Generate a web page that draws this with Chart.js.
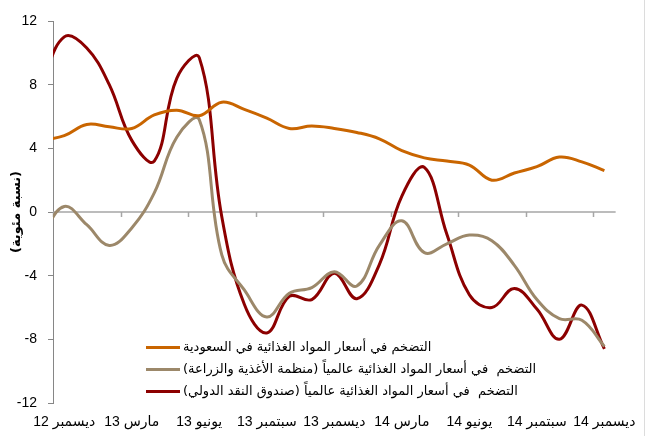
<!DOCTYPE html>
<html>
<head>
<meta charset="utf-8">
<script src="https://cdn.jsdelivr.net/npm/chart.js@4.4.1/dist/chart.umd.min.js"></script>
<style>
  html, body { margin: 0; padding: 0; background: #fff; }
  #wrap { width: 647px; height: 436px; position: relative; }
</style>
</head>
<body>
<div id="wrap"><canvas id="chart"></canvas></div>
<script>
// month index, 0 = start of Dec 2012 (first value is Nov 2012, clipped by the axis)
const monthX = [-0.5, 0.5, 1.5, 2.5, 3.5, 4.5, 5.5, 6.5, 7.5, 8.5, 9.5, 10.5, 11.5,
  12.5, 13.5, 14.5, 15.5, 16.5, 17.5, 18.5, 19.5, 20.5, 21.5, 22.5, 23.5, 24.5];

const saudi = [4.5, 4.8, 5.5, 5.35, 5.25, 6.1, 6.4, 6.05, 6.9, 6.45, 5.9, 5.25, 5.4,
  5.25, 5.0, 4.6, 3.85, 3.4, 3.2, 2.95, 2.0, 2.45, 2.85, 3.45, 3.15, 2.6];
const fao = [-1.5, 0.35, -0.8, -2.1, -1.0, 1.2, 4.7, 5.8, -2.7, -4.9, -6.6, -5.1, -4.75,
  -3.75, -4.65, -2.1, -0.55, -2.55, -2.0, -1.45, -1.8, -3.35, -5.5, -6.7, -6.8, -8.45];
const imf = [8.1, 11.0, 10.3, 8.0, 4.5, 3.2, 8.4, 9.7, -0.3, -5.8, -7.6, -5.3, -5.5,
  -3.85, -5.45, -3.3, 1.0, 2.8, -1.4, -5.2, -6.0, -4.8, -6.1, -8.0, -5.85, -8.6];

const seriesNames = [
  "التضخم في أسعار المواد الغذائية في السعودية",
  "التضخم  في أسعار المواد الغذائية عالمياً (منظمة الأغذية والزراعة)",
  "التضخم  في أسعار المواد الغذائية عالمياً (صندوق النقد الدولي)"
];
const seriesColors = ["#c96500", "#9c886a", "#8c0000"];

const xLabels = ["ديسمبر 12", "مارس 13", "يونيو 13", "سبتمبر 13", "ديسمبر 13",
  "مارس 14", "يونيو 14", "سبتمبر 14", "ديسمبر 14"];
const xLabelPos = [0.5, 3.5, 6.5, 9.5, 12.5, 15.5, 18.5, 21.5, 24.5];
const xTickMarks = [0, 3, 6, 9, 12, 15, 18, 21, 24];
const yTicks = [-12, -8, -4, 0, 4, 8, 12];
const yTitle = "(نسبة مئوية)";

const rtl = (s) => "\u202B" + s + "\u202C";
const toPoints = (vals) => vals.map((v, i) => ({ x: monthX[i], y: v }));
const axisFont = { family: "Liberation Sans, DejaVu Sans, sans-serif", size: 14 };

// zero line with the quarter tick marks hanging under it
const zeroLine = {
  id: "zeroLine",
  beforeDatasetsDraw(chart) {
    const { ctx, chartArea, scales: { x, y } } = chart;
    const y0 = y.getPixelForValue(0);
    ctx.save();
    ctx.strokeStyle = "#a6a6a6";
    ctx.lineWidth = 1.5;
    ctx.beginPath();
    ctx.moveTo(chartArea.left, y0);
    ctx.lineTo(chartArea.right, y0);
    xTickMarks.forEach((m) => {
      const px = Math.round(x.getPixelForValue(m)) + 0.5;
      ctx.moveTo(px, y0);
      ctx.lineTo(px, y0 + 5);
    });
    ctx.stroke();
    // faint frame edge on the right
    ctx.strokeStyle = "#dcdcdc";
    ctx.lineWidth = 1;
    ctx.beginPath();
    ctx.moveTo(644.5, 0);
    ctx.lineTo(644.5, chart.height);
    ctx.stroke();
    ctx.restore();
  }
};

// legend inside the plot, lower left, line sample then right-to-left text
const insideLegend = {
  id: "insideLegend",
  afterDraw(chart) {
    const { ctx } = chart;
    const left = 146, top = 346.5, rowGap = 22, lineLen = 34;
    ctx.save();
    ctx.font = "13px 'DejaVu Sans', sans-serif";
    ctx.textBaseline = "middle";
    ctx.textAlign = "left";
    chart.data.datasets.forEach((ds, i) => {
      const cy = Math.round(top + i * rowGap) + 0.5;
      ctx.strokeStyle = ds.borderColor;
      ctx.lineWidth = 3;
      ctx.beginPath();
      ctx.moveTo(left, cy);
      ctx.lineTo(left + lineLen, cy);
      ctx.stroke();
      ctx.fillStyle = "#000";
      ctx.direction = "rtl";
      ctx.fillText(ds.label, left + lineLen + 3, cy);
      ctx.direction = "ltr";
    });
    ctx.restore();
  }
};

new Chart(document.getElementById("chart"), {
  type: "line",
  data: {
    datasets: [saudi, fao, imf].map((vals, i) => ({
      label: seriesNames[i],
      data: toPoints(vals),
      borderColor: seriesColors[i],
      backgroundColor: seriesColors[i],
      borderWidth: 3,
      pointRadius: 0,
      tension: 0.4,
      fill: false
    }))
  },
  options: {
    responsive: true,
    maintainAspectRatio: false,
    animation: false,
    layout: { padding: { left: 0, right: 27, top: 21, bottom: 0 } },
    plugins: {
      tooltip: { enabled: false },
      legend: { display: false }
    },
    scales: {
      x: {
        type: "linear",
        min: 0,
        max: 25,
        afterBuildTicks: (s) => { s.ticks = xLabelPos.map((v) => ({ value: v })); },
        grid: { display: false, drawTicks: false },
        border: { display: false },
        ticks: {
          autoSkip: false,
          maxRotation: 0,
          padding: 11,
          color: "#000",
          font: axisFont,
          callback: (v, i) => rtl(xLabels[i])
        },
        afterFit: (s) => { s.height = 33; }
      },
      y: {
        min: -12,
        max: 12,
        afterBuildTicks: (s) => { s.ticks = yTicks.map((v) => ({ value: v })); },
        grid: { drawOnChartArea: false, drawTicks: true, tickLength: 5, color: "#868686" },
        border: { display: true, color: "#868686", width: 1 },
        ticks: { padding: 11, color: "#000", font: axisFont },
        title: {
          display: true,
          text: rtl(yTitle),
          color: "#000",
          font: { family: "DejaVu Sans, sans-serif", size: 13, weight: "bold" },
          padding: { top: 9, bottom: 0 }
        },
        afterFit: (s) => { s.width = 53; }
      }
    }
  },
  plugins: [zeroLine, insideLegend]
});
</script>
</body>
</html>
